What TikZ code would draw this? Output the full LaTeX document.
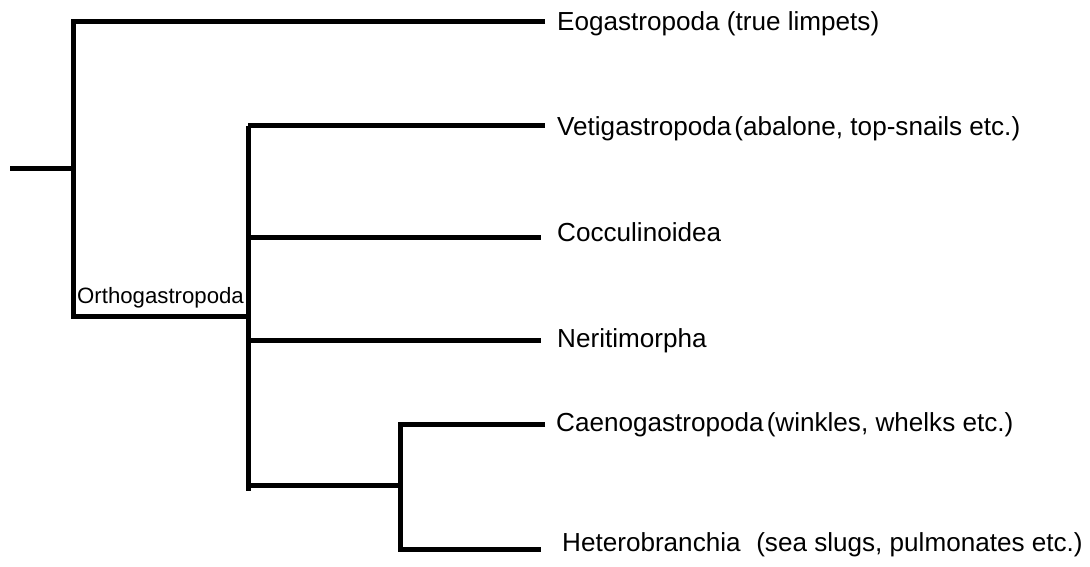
\documentclass[tikz,border=0pt]{standalone}
\usepackage{fontspec}
\setmainfont{Liberation Sans}
\begin{document}
\begin{tikzpicture}[x=1pt,y=-1pt,
  branch/.style={line width=5pt,line cap=butt,line join=miter},
  taxon/.style={anchor=base west,inner sep=0pt,font=\fontsize{26.1}{30}\selectfont},
  cladelabel/.style={anchor=base west,inner sep=0pt,font=\fontsize{22.2}{26}\selectfont}]
\useasboundingbox (0,0) rectangle (1090,567);
% junction and tip coordinates
\coordinate (root) at (10,169);
\coordinate (j0) at (73,169);
\coordinate (j0t) at (73,22);
\coordinate (j0b) at (73,316);
\coordinate (j1) at (248,316);
\coordinate (j1t) at (248,126);
\coordinate (j1c) at (248,237);
\coordinate (j1n) at (248,340);
\coordinate (j1l) at (248,485);
\coordinate (j1b) at (248,491);
\coordinate (j2) at (400,485);
\coordinate (j2t) at (400,424);
\coordinate (j2b) at (400,549);
\coordinate (tEo) at (545,22);
\coordinate (tVe) at (545,126);
\coordinate (tCo) at (541,237);
\coordinate (tNe) at (541,340);
\coordinate (tCa) at (545,424);
\coordinate (tHe) at (541,549);
% labels
\node[taxon] (Eo) at (557,31) {Eogastropoda (true limpets)};
\node[taxon] (Ve) at (557,136) {Vetigastropoda\hspace{0.12em}(abalone, top-snails etc.)};
\node[taxon] (Co) at (557,241) {Cocculinoidea};
\node[taxon] (Ne) at (557,347) {Neritimorpha};
\node[taxon] (Ca) at (556,431) {Caenogastropoda\hspace{0.12em}(winkles, whelks etc.)};
\node[taxon] (He) at (562,551) {Heterobranchia\hspace{0.6em}(sea slugs, pulmonates etc.)};
\node[cladelabel] (Or) at (77,303) {Orthogastropoda};
% branches
\draw[branch] (root) -- (j0);
\draw[branch] (tEo) -- (j0t) -- (j0b) -- (j1);
\draw[branch] (j1t) -- (j1b);
\draw[branch] (j1t) -- (tVe);
\draw[branch] (j1c) -- (tCo);
\draw[branch] (j1n) -- (tNe);
\draw[branch] (j1l) -- (j2);
\draw[branch] (tCa) -- (j2t) -- (j2b) -- (tHe);
\end{tikzpicture}
\end{document}
